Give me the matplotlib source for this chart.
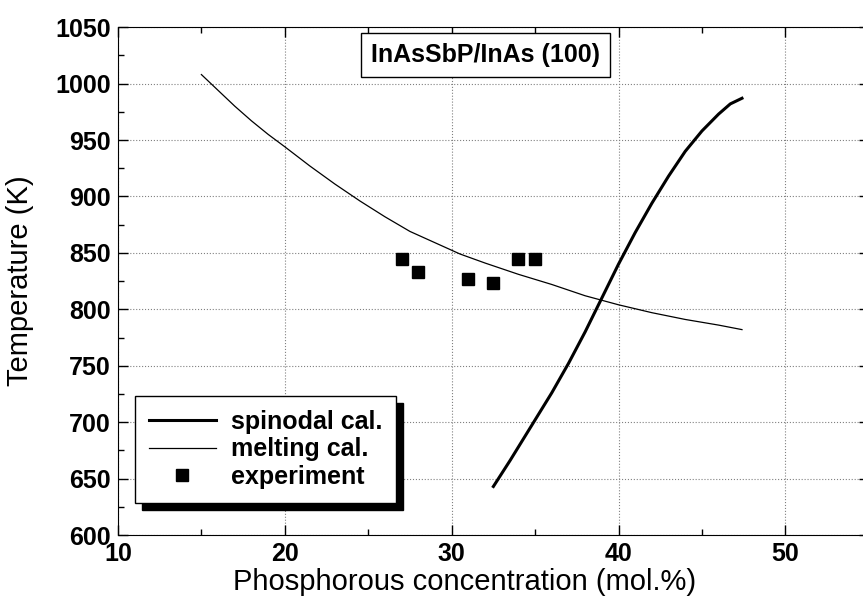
import matplotlib.pyplot as plt
from matplotlib.patches import Rectangle
from matplotlib.ticker import MultipleLocator

plt.rcParams['font.family'] = ['Liberation Sans', 'DejaVu Sans']

# melting calculation curve
melt_x = [15, 16, 17, 18, 19, 20, 21.5, 23, 24.5, 26, 27.5, 29, 30.5, 32, 34,
          36, 38, 40, 42, 44, 46, 47.4]
melt_t = [1008, 994, 980, 967, 955, 944, 927, 911, 896, 882, 869, 859, 849,
          841, 831, 822, 812, 804, 797, 791, 786, 782]

# spinodal calculation curve
spin_x = [32.5, 33.5, 35, 36, 37, 38, 38.9, 40, 41, 42, 43, 44, 45, 46, 46.7, 47.4]
spin_t = [643, 666, 702, 726, 752, 780, 807, 840, 868, 894, 918, 940, 958, 973, 982, 987]

# experiment points
exp_x = [27.0, 28.0, 31.0, 32.5, 34.0, 35.0]
exp_t = [845, 833, 827, 823, 845, 845]

fig = plt.figure(figsize=(8.63, 6.01), dpi=100)
ax = fig.add_axes([0.1367, 0.1098, 0.870, 0.845])

ax.plot(spin_x, spin_t, color='black', lw=2.2, label='spinodal cal.')
ax.plot(melt_x, melt_t, color='black', lw=0.9, label='melting cal.')
ax.plot(exp_x, exp_t, 's', color='black', ms=8, label='experiment')

ax.set_xlim(10, 55)
ax.set_ylim(600, 1050)
ax.xaxis.set_major_locator(MultipleLocator(10))
ax.xaxis.set_minor_locator(MultipleLocator(5))
ax.yaxis.set_major_locator(MultipleLocator(50))
ax.yaxis.set_minor_locator(MultipleLocator(25))
ax.grid(True, which='major', color='gray', ls=':', lw=0.8)
ax.tick_params(which='both', direction='in', top=True, right=True, width=1)
ax.tick_params(which='major', length=7, labelsize=18, pad=5)
ax.tick_params(which='minor', length=4)
for lab in ax.get_xticklabels() + ax.get_yticklabels():
    lab.set_fontweight('bold')

ax.set_xlabel('Phosphorous concentration (mol.%)', fontsize=21)
ax.set_ylabel('Temperature (K)', fontsize=21)
ax.xaxis.set_label_coords(0.462, -0.065)
ax.yaxis.set_label_coords(-0.112, 0.5)

fig.text(0.562, 0.909, 'InAsSbP/InAs (100)', fontsize=18, fontweight='bold',
         ha='center', va='center',
         bbox=dict(boxstyle='square,pad=0.4', fc='white', ec='black', lw=1))

leg = ax.legend(loc='upper left', bbox_to_anchor=(0.1564, 0.341),
                bbox_transform=fig.transFigure, borderaxespad=0,
                prop={'weight': 'bold', 'size': 18}, handlelength=2.7,
                labelspacing=0.14, borderpad=0.55, handletextpad=0.6,
                fancybox=False, edgecolor='black', framealpha=1)
leg.get_frame().set_linewidth(1)
leg.set_zorder(5)

fig.canvas.draw()
bb = leg.get_frame().get_window_extent()
shadow = Rectangle((bb.x0 + 7, bb.y0 - 7), bb.width, bb.height,
                   transform=None, fc='black', ec='black', zorder=4)
ax.add_artist(shadow)
shadow.set_clip_on(False)

fig.savefig('out.png', dpi=100)
